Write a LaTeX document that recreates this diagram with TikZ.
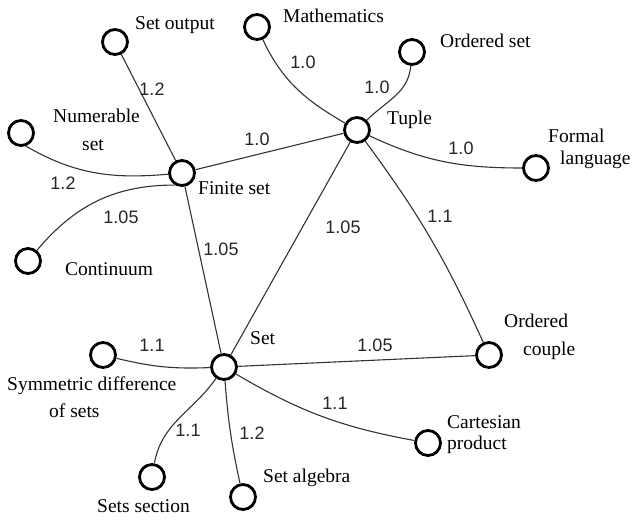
\documentclass[tikz,border=0pt]{standalone}
\usepackage{fontspec}
\setmainfont{Liberation Serif}
\newfontfamily\numfont{Liberation Sans}
\begin{document}
\begin{tikzpicture}[x=1pt,y=1pt,
 vert/.style={circle,draw=black,line width=2.8pt,fill=white,minimum size=25pt,inner sep=0pt},
 lbl/.style={anchor=west,inner sep=0pt,font=\fontsize{19.5}{22}\selectfont,text height=13pt,text depth=4pt},
 wt/.style={inner sep=0pt,font=\numfont\fontsize{18}{20}\selectfont,text=black!85},
 edge/.style={draw=black!80,line width=1.1pt}]
\useasboundingbox (0,0) rectangle (633,-520);
% vertices
\node[vert] (setout) at (115,-42) {};
\node[vert] (math) at (257,-27) {};
\node[vert] (ordset) at (412,-52) {};
\node[vert] (tuple) at (357,-130) {};
\node[vert] (formal) at (536,-168) {};
\node[vert] (numer) at (21,-133) {};
\node[vert] (finite) at (182,-173) {};
\node[vert] (cont) at (28,-261) {};
\node[vert] (set) at (224,-367) {};
\node[vert] (ordcouple) at (489,-355) {};
\node[vert] (cart) at (428,-443) {};
\node[vert] (symdiff) at (103,-355) {};
\node[vert] (section) at (152,-477) {};
\node[vert] (algebra) at (243,-497) {};
% edges
\draw[edge] (setout) -- (finite);
\draw[edge] (numer.-70) to[out=-30,in=185] (finite);
\draw[edge] (cont) to[out=50,in=180] (finite.-120);
\draw[edge] (finite) -- (tuple);
\draw[edge] (finite) -- (set);
\draw[edge] (math) to[out=-65,in=150] (tuple);
\draw[edge] (ordset) to[out=-95,in=45] (tuple);
\draw[edge] (tuple) to[out=-25,in=180] (formal);
\draw[edge] (tuple) -- (set);
\draw[edge] (tuple) to[bend left=6] (ordcouple);
\draw[edge] (set) -- (ordcouple);
\draw[edge] (set) to[bend left=8] (symdiff);
\draw[edge] (set) to[bend right=10] (cart);
\draw[edge] (set) to[out=-125,in=80] (section);
\draw[edge] (set) to[bend right=4] (algebra);
% vertex labels
\node[lbl] (l1) at (135,-25) {Set output};
\node[lbl] (l2) at (283,-18) {Mathematics};
\node[lbl] (l3) at (440,-43) {Ordered set};
\node[lbl] (l4) at (387,-120) {Tuple};
\node[lbl] (l5) at (548,-138) {Formal};
\node[lbl] (l6) at (560,-160) {language};
\node[lbl] (l7) at (53,-118) {Numerable};
\node[lbl] (l8) at (82,-146) {set};
\node[lbl] (l9) at (198,-190) {Finite set};
\node[lbl] (l10) at (65,-271) {Continuum};
\node[lbl] (l11) at (250,-340) {Set};
\node[lbl] (l12) at (504,-323) {Ordered};
\node[lbl] (l13) at (523,-351) {couple};
\node[lbl] (l14) at (447,-424) {Cartesian};
\node[lbl] (l15) at (447,-445) {product};
\node[lbl] (l16) at (7,-386) {Symmetric difference};
\node[lbl] (l17) at (49,-413) {of sets};
\node[lbl] (l18) at (97,-508) {Sets section};
\node[lbl] (l19) at (263,-478) {Set algebra};
% weights
\node[wt] (w1) at (152,-89) {1.2};
\node[wt] (w2) at (63,-183) {1.2};
\node[wt] (w3) at (121,-217) {1.05};
\node[wt] (w4) at (257,-139) {1.0};
\node[wt] (w5) at (221,-249) {1.05};
\node[wt] (w6) at (303,-62) {1.0};
\node[wt] (w7) at (377,-87) {1.0};
\node[wt] (w8) at (461,-148) {1.0};
\node[wt] (w9) at (343,-227) {1.05};
\node[wt] (w10) at (440,-216) {1.1};
\node[wt] (w11) at (375,-345) {1.05};
\node[wt] (w12) at (152,-345) {1.1};
\node[wt] (w13) at (335,-403) {1.1};
\node[wt] (w14) at (188,-430) {1.1};
\node[wt] (w15) at (252,-433) {1.2};
\end{tikzpicture}
\end{document}
